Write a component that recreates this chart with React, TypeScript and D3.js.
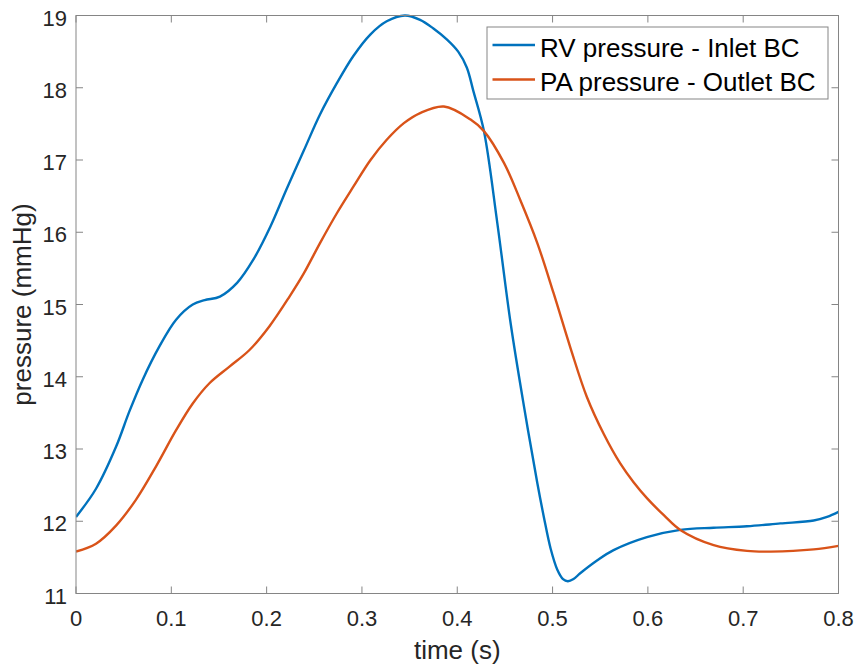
import React from "react";
import * as d3 from "d3";

const rvTime = [0, 0.021, 0.042, 0.056, 0.07, 0.0875, 0.105, 0.1225, 0.135, 0.151, 0.169, 0.186, 0.204, 0.221, 0.239, 0.256, 0.274, 0.291, 0.309, 0.326, 0.345, 0.361, 0.375, 0.389, 0.401, 0.41, 0.417, 0.428, 0.442, 0.456, 0.47, 0.484, 0.491, 0.498, 0.505, 0.511, 0.516, 0.522, 0.529, 0.547, 0.564, 0.599, 0.634, 0.669, 0.704, 0.739, 0.774, 0.788, 0.8];
const rvPressure = [12.06, 12.45, 13.03, 13.52, 13.96, 14.42, 14.79, 15.0, 15.06, 15.11, 15.3, 15.62, 16.08, 16.6, 17.13, 17.63, 18.07, 18.44, 18.74, 18.92, 19.0, 18.94, 18.82, 18.67, 18.5, 18.28, 17.95, 17.4, 16.13, 14.74, 13.59, 12.53, 12.05, 11.62, 11.33, 11.2, 11.17, 11.2, 11.28, 11.46, 11.6, 11.78, 11.88, 11.91, 11.93, 11.97, 12.01, 12.06, 12.13];

const paTime = [0, 0.021, 0.042, 0.063, 0.084, 0.105, 0.1225, 0.14, 0.161, 0.182, 0.203, 0.224, 0.239, 0.256, 0.274, 0.291, 0.309, 0.326, 0.344, 0.361, 0.386, 0.414, 0.428, 0.449, 0.466, 0.484, 0.501, 0.519, 0.536, 0.554, 0.571, 0.585, 0.599, 0.617, 0.634, 0.669, 0.704, 0.729, 0.774, 0.8];
const paPressure = [11.58, 11.69, 11.94, 12.3, 12.76, 13.26, 13.63, 13.91, 14.14, 14.37, 14.7, 15.11, 15.43, 15.85, 16.27, 16.63, 17.0, 17.28, 17.51, 17.65, 17.74, 17.56, 17.4, 16.96, 16.45, 15.85, 15.16, 14.39, 13.72, 13.2, 12.8, 12.54, 12.32, 12.08, 11.88, 11.67, 11.59, 11.58, 11.61, 11.66];

const xTicks = [0, 0.1, 0.2, 0.3, 0.4, 0.5, 0.6, 0.7, 0.8];
const yTicks = [11, 12, 13, 14, 15, 16, 17, 18, 19];
const seriesNames = ["RV pressure - Inlet BC", "PA pressure - Outlet BC"];
const seriesColors = ["#0072BD", "#D95319"];

const W = 858;
const H = 666;
const left = 76;
const right = 838.5;
const top = 15.5;
const bottom = 593.5;
const FONT = "'Liberation Sans', Arial, Helvetica, sans-serif";
const TEXT = "#262626";
const AXIS = "#858585";

export default function App() {
  const x = d3.scaleLinear().domain([0, 0.8]).range([left, right]);
  const y = d3.scaleLinear().domain([11, 19]).range([bottom, top]);
  const line = d3
    .line<[number, number]>()
    .x((d) => x(d[0]))
    .y((d) => y(d[1]))
    .curve(d3.curveCatmullRom.alpha(0.5));
  const rv: [number, number][] = rvTime.map((t, i) => [t, rvPressure[i]]);
  const pa: [number, number][] = paTime.map((t, i) => [t, paPressure[i]]);
  const tl = 7;

  return (
    <div style={{ position: "absolute", left: 0, top: 0 }}>
      <svg width={W} height={H} style={{ display: "block", background: "#fff" }}>
        <rect x={0} y={0} width={W} height={H} fill="#fff" />
        <defs>
          <clipPath id="plotclip">
            <rect x={left} y={top - 2} width={right - left} height={bottom - top + 4} />
          </clipPath>
        </defs>
        <g clipPath="url(#plotclip)">
          <path d={line(rv) || ""} fill="none" stroke={seriesColors[0]} strokeWidth={2.4} strokeLinejoin="round" />
          <path d={line(pa) || ""} fill="none" stroke={seriesColors[1]} strokeWidth={2.4} strokeLinejoin="round" />
        </g>
        <rect x={left} y={top} width={right - left} height={bottom - top} fill="none" stroke={AXIS} strokeWidth={1} />
        {xTicks.map((t) => (
          <g key={"x" + t}>
            <line x1={x(t)} x2={x(t)} y1={bottom} y2={bottom - tl} stroke={AXIS} />
            <line x1={x(t)} x2={x(t)} y1={top} y2={top + tl} stroke={AXIS} />
            <text x={x(t)} y={626} textAnchor="middle" fontFamily={FONT} fontSize={22} fill={TEXT}>
              {String(t)}
            </text>
          </g>
        ))}
        {yTicks.map((v) => (
          <g key={"y" + v}>
            <line x1={left} x2={left + tl} y1={y(v)} y2={y(v)} stroke={AXIS} />
            <line x1={right} x2={right - tl} y1={y(v)} y2={y(v)} stroke={AXIS} />
            <text x={67} y={y(v) + 10} textAnchor="end" fontFamily={FONT} fontSize={22} fill={TEXT}>
              {String(v)}
            </text>
          </g>
        ))}
        <text x={(left + right) / 2} y={659} textAnchor="middle" fontFamily={FONT} fontSize={26} fill={TEXT}>
          time (s)
        </text>
        <text
          transform={`translate(31,${(top + bottom) / 2}) rotate(-90)`}
          textAnchor="middle"
          fontFamily={FONT}
          fontSize={26}
          fill={TEXT}
        >
          pressure (mmHg)
        </text>
        <rect x={487} y={27} width={341} height={72} fill="#fff" stroke={AXIS} strokeWidth={1} />
        {seriesNames.map((n, i) => (
          <g key={n}>
            <line x1={492.5} x2={535} y1={45 + i * 34.5} y2={45 + i * 34.5} stroke={seriesColors[i]} strokeWidth={2.4} />
            <text x={540} y={56.5 + i * 34} fontFamily={FONT} fontSize={26} fill="#000">
              {n}
            </text>
          </g>
        ))}
      </svg>
    </div>
  );
}
